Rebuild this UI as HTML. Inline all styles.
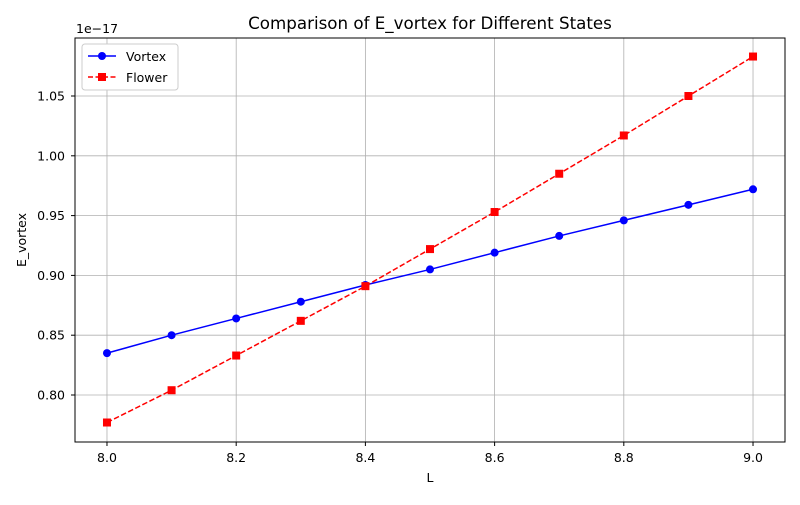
<!DOCTYPE html>
<html><head><meta charset="utf-8"><style>
body{margin:0;background:#fff;}
svg text{font-family:"DejaVu Sans","Liberation Sans",sans-serif;fill:#000;}
</style></head><body>
<svg id="chart" width="800" height="500" xmlns="http://www.w3.org/2000/svg">
<rect width="800" height="500" fill="#fff"/>
<g id="grid"></g>
<g id="axes"></g>
<g id="series"></g>
<text x="430" y="29" font-size="16.7" text-anchor="middle">Comparison of E_vortex for Different States</text>
<text x="430" y="482" font-size="12.5" text-anchor="middle">L</text>
<text x="26" y="240" font-size="12.5" text-anchor="middle" transform="rotate(-90 26 240)">E_vortex</text>
<text x="76" y="33" font-size="12.5">1e−17</text>
<g>
<rect x="82" y="44" width="96" height="46" rx="3" fill="#fff" stroke="#ccc"/>
<line x1="88" y1="56" x2="116" y2="56" stroke="#0000ff" stroke-width="1.5"/>
<circle cx="102" cy="56" r="4" fill="#0000ff"/>
<text x="126" y="61" font-size="12.5">Vortex</text>
<line x1="88" y1="77" x2="116" y2="77" stroke="#ff0000" stroke-width="1.5" stroke-dasharray="5,2.5"/>
<rect x="98" y="73" width="8" height="8" fill="#ff0000"/>
<text x="126" y="82" font-size="12.5">Flower</text>
</g>
</svg>
<script>
const categories=[8.0,8.1,8.2,8.3,8.4,8.5,8.6,8.7,8.8,8.9,9.0];
const vortexValues=[0.835,0.850,0.864,0.878,0.892,0.905,0.919,0.933,0.946,0.959,0.972];
const flowerValues=[0.777,0.804,0.833,0.862,0.891,0.922,0.953,0.985,1.017,1.050,1.083];
const xTicks=[8.0,8.2,8.4,8.6,8.8,9.0];
const yTicks=[0.80,0.85,0.90,0.95,1.00,1.05];
const L=75,R=785,T=38,B=442;
const xMin=7.9505,xMax=9.0495,yMin=0.7607,yMax=1.0985;
const xs=v=>L+(v-xMin)/(xMax-xMin)*(R-L);
const ys=v=>B-(v-yMin)/(yMax-yMin)*(B-T);
const NS="http://www.w3.org/2000/svg";
function mk(tag,attrs,parent){const e=document.createElementNS(NS,tag);for(const k in attrs)e.setAttribute(k,attrs[k]);parent.appendChild(e);return e;}
const grid=document.getElementById('grid'),axes=document.getElementById('axes'),ser=document.getElementById('series');
xTicks.forEach(t=>{const x=xs(t);
const g=mk('line',{x1:x,x2:x,y1:T,y2:B,stroke:'#b0b0b0','stroke-width':0.8},grid);


mk('line',{x1:x,x2:x,y1:B,y2:B+4,stroke:'#000'},axes);
const tx=mk('text',{x:x,y:B+20,'font-size':12.5,'text-anchor':'middle'},axes);tx.textContent=t.toFixed(1);

});
yTicks.forEach(t=>{const y=ys(t);
const g=mk('line',{x1:L,x2:R,y1:y,y2:y,stroke:'#b0b0b0','stroke-width':0.8},grid);


mk('line',{x1:L-4,x2:L,y1:y,y2:y,stroke:'#000'},axes);
const tx=mk('text',{x:L-10,y:y+4.5,'font-size':12.5,'text-anchor':'end'},axes);tx.textContent=t.toFixed(2);

});
const frame=mk('rect',{x:L,y:T,width:R-L,height:B-T,fill:'none',stroke:'#000','stroke-width':1},axes);


const pv=categories.map((c,i)=>xs(c)+','+ys(vortexValues[i])).join(' ');
const lv=mk('polyline',{points:pv,fill:'none',stroke:'#0000ff','stroke-width':1.5},ser);


const pf=categories.map((c,i)=>xs(c)+','+ys(flowerValues[i])).join(' ');
const lf=mk('polyline',{points:pf,fill:'none',stroke:'#ff0000','stroke-width':1.5,'stroke-dasharray':'5.5,2.4'},ser);


categories.forEach((c,i)=>{
const p=mk('circle',{cx:xs(c),cy:ys(vortexValues[i]),r:4,fill:'#0000ff'},ser);


const q=mk('rect',{x:xs(c)-4,y:ys(flowerValues[i])-4,width:8,height:8,fill:'#ff0000'},ser);


});
</script>
</body></html>
